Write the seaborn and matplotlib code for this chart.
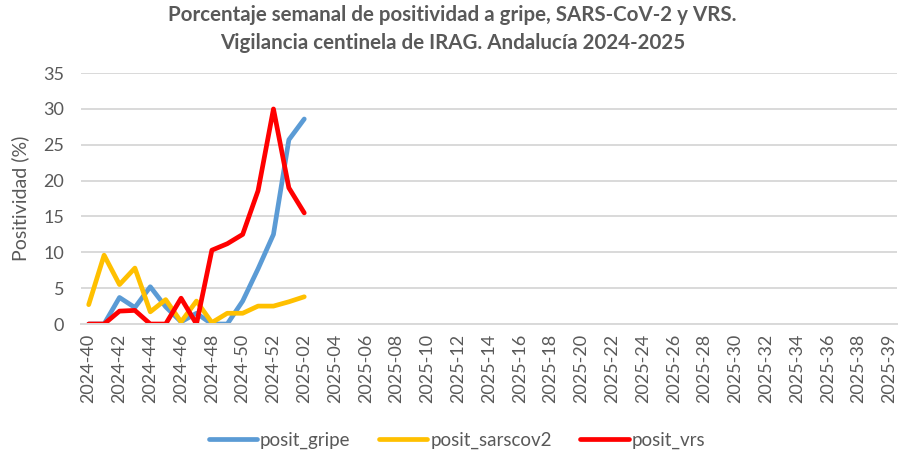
import matplotlib
matplotlib.use("Agg")
import matplotlib.pyplot as plt
import seaborn as sns
import pandas as pd

weeks = ["2024-40", "2024-41", "2024-42", "2024-43", "2024-44", "2024-45", "2024-46",
         "2024-47", "2024-48", "2024-49", "2024-50", "2024-51", "2024-52", "2025-01", "2025-02"]
week_pos = list(range(len(weeks)))

posit_gripe = [0.0, 0.0, 3.7, 2.3, 5.2, 2.4, 0.3, 1.5, 0.0, 0.0, 3.2, 7.7, 12.5, 25.7, 28.6]
posit_sarscov2 = [2.7, 9.6, 5.5, 7.8, 1.7, 3.4, 0.3, 3.2, 0.2, 1.5, 1.5, 2.5, 2.5, 3.1, 3.8]
posit_vrs = [0.0, 0.0, 1.8, 1.9, 0.0, 0.0, 3.6, 0.0, 10.3, 11.2, 12.5, 18.6, 30.0, 19.0, 15.5]

tick_labels = ["2024-40", "2024-42", "2024-44", "2024-46", "2024-48", "2024-50", "2024-52",
               "2025-02", "2025-04", "2025-06", "2025-08", "2025-10", "2025-12", "2025-14",
               "2025-16", "2025-18", "2025-20", "2025-22", "2025-24", "2025-26", "2025-28",
               "2025-30", "2025-32", "2025-34", "2025-36", "2025-38", "2025-39"]
tick_pos = list(range(0, 2 * len(tick_labels), 2))

series_names = ["posit_gripe", "posit_sarscov2", "posit_vrs"]
colors = ["#5B9BD5", "#FFC000", "#FF0000"]

df = pd.DataFrame({
    "pos": week_pos * 3,
    "value": posit_gripe + posit_sarscov2 + posit_vrs,
    "serie": sum([[n] * len(weeks) for n in series_names], []),
})

sns.set_theme(style="white")
plt.rcParams["font.family"] = ["Lato", "DejaVu Sans"]

fig = plt.figure(figsize=(9.01, 4.57), dpi=100)
ax = fig.add_axes([0.0899, 0.291, 0.9057, 0.549])

sns.lineplot(data=df, x="pos", y="value", hue="serie", hue_order=series_names,
             palette=colors, linewidth=3.4, ax=ax, legend=True)

ax.set_ylim(0, 35)
ax.set_xlim(-0.5, 52.5)
ax.set_yticks(range(0, 36, 5))
ax.set_xticks(tick_pos)
ax.set_xticklabels(tick_labels, rotation=90)
ax.tick_params(axis="both", length=0, labelsize=13, colors="#595959")
ax.tick_params(axis="x", pad=7)
ax.tick_params(axis="y", pad=12)
ax.yaxis.grid(True, color="#D9D9D9", linewidth=1.4)
ax.set_axisbelow(True)
for s in ["top", "right", "left"]:
    ax.spines[s].set_visible(False)
ax.spines["bottom"].set_color("#D9D9D9")
ax.spines["bottom"].set_linewidth(1.4)
ax.set_xlabel("")
ax.set_ylabel("Positividad (%)", fontsize=14, color="#595959", labelpad=10)

fig.suptitle("Porcentaje semanal de positividad a gripe, SARS-CoV-2 y VRS.\n"
             "Vigilancia centinela de IRAG. Andalucía 2024-2025",
             x=0.502, y=0.988, fontsize=14.8, fontweight="bold", color="#595959",
             linespacing=1.5)

handles, labels = ax.get_legend_handles_labels()
ax.legend(handles, labels, loc="center", bbox_to_anchor=(0.507, 0.037),
          bbox_transform=fig.transFigure, ncol=3, frameon=False,
          fontsize=13.5, labelcolor="#595959", handlelength=2.6, handletextpad=0.15,
          columnspacing=1.5)

fig.savefig("out.png", dpi=100)
